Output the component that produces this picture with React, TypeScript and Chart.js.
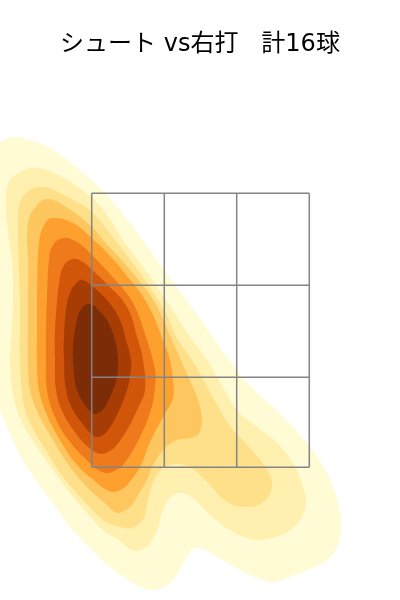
import React, { useEffect, useRef } from "react";
import { Chart, registerables } from "chart.js";

Chart.register(...registerables);

const titleText = "シュート vs右打   計16球";

const zoneX = [91.7, 164.3, 236.7, 309.3];
const zoneY = [193.3, 285.3, 377.3, 467.3];
const zoneColor = "#848484";

const level1 = [[-12,300],[-14,200],[-8,150],[4,140],[17,137],[33,141],[50,148],[67,160],[83,173],[107,195],[125,217],[143,240],[164,270],[190,305],[208,330],[227,357],[245,380],[260,395],[283,417],[310,447],[327,473],[338,503],[341,527],[337,547],[327,560],[307,570],[287,578],[273,582],[257,578],[237,568],[217,557],[200,548],[192,550],[185,560],[178,573],[170,583],[162,588],[153,590],[143,588],[133,583],[110,567],[95,553],[82,540],[70,527],[53,503],[37,482],[20,455],[0,410],[-10,385],[-12,300]];
const level2 = [[12,330],[13,297],[12,263],[7,223],[6,197],[10,180],[20,172],[30,168],[43,169],[67,180],[92,198],[107,215],[123,240],[143,267],[164,297],[190,337],[207,360],[217,377],[237,410],[257,427],[277,443],[293,463],[303,487],[306,503],[300,520],[287,532],[267,539],[250,539],[230,530],[210,515],[193,498],[180,493],[170,498],[163,510],[157,530],[150,543],[143,549],[135,551],[127,547],[120,541],[103,530],[87,513],[70,493],[53,470],[37,447],[20,418],[13,393],[10,360],[12,330]];
const level3 = [[20,297],[18,230],[20,203],[30,190],[43,187],[60,193],[75,201],[92,212],[115,240],[140,273],[164,310],[178,340],[192,360],[205,383],[220,410],[233,430],[250,448],[267,470],[272,487],[263,502],[247,507],[227,502],[207,482],[190,467],[177,464],[163,468],[153,483],[148,500],[145,515],[140,523],[132,528],[124,528],[113,525],[103,520],[83,500],[63,477],[47,452],[30,423],[23,400],[20,360],[20,330],[20,297]];
const level4 = [[28,263],[28,223],[37,205],[47,199],[63,205],[92,227],[103,240],[133,273],[155,303],[172,340],[185,370],[197,397],[202,420],[199,433],[190,438],[177,440],[165,448],[152,467],[147,480],[138,495],[131,506],[124,511],[118,513],[112,510],[107,505],[90,490],[70,467],[53,440],[38,413],[30,390],[28,360],[28,330],[28,263]];
const level5 = [[37,297],[39,243],[45,223],[53,218],[73,223],[95,241],[110,256],[123,271],[147,303],[163,340],[170,360],[173,380],[173,398],[163,417],[150,442],[140,467],[127,485],[120,490],[113,492],[105,489],[97,483],[77,465],[60,440],[47,415],[39,390],[37,360],[37,330],[37,297]];
const level6 = [[47,297],[49,260],[53,245],[63,238],[77,242],[90,253],[117,282],[133,303],[147,340],[155,370],[155,387],[150,413],[137,443],[123,465],[116,470],[108,473],[100,471],[92,465],[70,442],[55,417],[47,390],[46,360],[46,330],[47,297]];
const level7 = [[58,290],[63,267],[73,259],[83,262],[90,268],[108,285],[127,307],[138,340],[143,360],[145,390],[138,408],[127,430],[115,447],[108,452],[102,454],[95,452],[86,445],[77,435],[63,413],[56,390],[55,360],[55,330],[58,290]];
const level8 = [[72,288],[80,280],[85,281],[92,286],[107,300],[120,320],[126,340],[131,360],[130,377],[127,390],[118,413],[108,430],[103,435],[97,437],[91,434],[85,427],[73,410],[66,390],[64,360],[64,337],[67,303],[72,288]];
const level9 = [[78,315],[85,305],[93,305],[100,312],[107,320],[115,340],[118,360],[117,377],[113,390],[105,407],[100,412],[95,414],[90,411],[85,405],[77,390],[74,375],[73,360],[73,345],[75,330],[78,315]];

const levels = [level1, level2, level3, level4, level5, level6, level7, level8, level9];
const levelColors = ["#FFFBD5", "#FFF0AF", "#FEDF8A", "#FEC65E", "#FEA02E", "#EE7A1C", "#D2560A", "#A83C05", "#7C2C06"];

const toPoints = (pairs: number[][]) => pairs.map(([x, y]) => ({ x, y }));

export default function App() {
  const ref = useRef<HTMLCanvasElement>(null);

  useEffect(() => {
    if (!ref.current) return;

    const verticals = zoneX.map((x) => ({
      data: [{ x, y: zoneY[0] }, { x, y: zoneY[3] }],
      showLine: true,
      borderColor: zoneColor,
      borderWidth: 1.5,
      pointRadius: 0,
      tension: 0,
      fill: false,
    }));
    const horizontals = zoneY.map((y) => ({
      data: [{ x: zoneX[0], y }, { x: zoneX[3], y }],
      showLine: true,
      borderColor: zoneColor,
      borderWidth: 1.5,
      pointRadius: 0,
      tension: 0,
      fill: false,
    }));
    const contours = levels.map((pairs, i) => ({
      data: toPoints(pairs),
      showLine: true,
      borderWidth: 0,
      borderColor: levelColors[i],
      backgroundColor: levelColors[i],
      pointRadius: 0,
      tension: 0.4,
      fill: "shape",
      order: 10 + (levels.length - i),
    }));

    const chart = new Chart(ref.current, {
      type: "scatter",
      data: { datasets: [...verticals, ...horizontals, ...contours] as any },
      options: {
        animation: false,
        responsive: false,
        layout: { padding: 0 },
        elements: { line: { capBezierPoints: false } },
        plugins: {
          legend: { display: false },
          tooltip: { enabled: false },
          title: {
            display: true,
            text: titleText,
            color: "#000000",
            font: { family: "'DejaVu Sans', 'Noto Sans CJK JP'", size: 24, weight: "normal", lineHeight: 1 },
            padding: { top: 33, bottom: 3 },
          },
        },
        scales: {
          x: { type: "linear", display: false, min: 0, max: 400 },
          y: { type: "linear", display: false, min: 60, max: 600, reverse: true },
        },
      },
    });
    return () => chart.destroy();
  }, []);

  return (
    <canvas
      ref={ref}
      width={400}
      height={600}
      style={{ position: "fixed", left: 0, top: 0, display: "block" }}
    />
  );
}
